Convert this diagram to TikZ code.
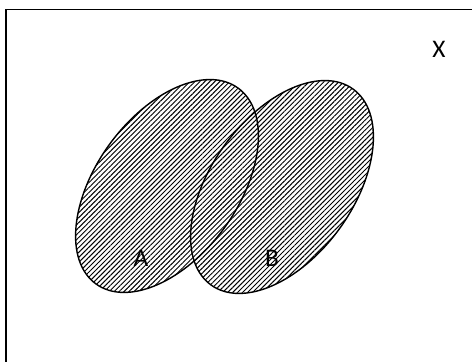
\documentclass[tikz,border=0pt]{standalone}
\usepackage{fontspec}
\setmainfont{Carlito}
\usetikzlibrary{patterns.meta}
\begin{document}
\begin{tikzpicture}[x=0.025cm,y=0.025cm,
  setfill/.style={pattern={Lines[angle=45,distance=2.5pt,line width=0.7pt]}},
  setline/.style={line width=1pt},
  setlabel/.style={font=\fontsize{18}{20}\selectfont, inner sep=0pt}]
\useasboundingbox (0,0) rectangle (472,361);
\clip (0,0) rectangle (472,361);
\draw[line width=1.4pt] (6,-20) rectangle (490,351.5);
\coordinate (ca) at (167,175);
\coordinate (cb) at (282,174);
% one fill for the union, so the overlap is hatched only once
\fill[setfill, nonzero rule] (ca) ellipse[x radius=121, y radius=71, rotate=54]
  (cb) ellipse[x radius=121, y radius=71, rotate=54];
\draw[setline] (ca) ellipse[x radius=121, y radius=71, rotate=54];
\draw[setline] (cb) ellipse[x radius=121, y radius=71, rotate=54];
\node[setlabel] (a) at (141,103) {A};
\node[setlabel] (b) at (272,103) {B};
\node[setlabel] (x) at (439,312) {X};
\end{tikzpicture}
\end{document}
